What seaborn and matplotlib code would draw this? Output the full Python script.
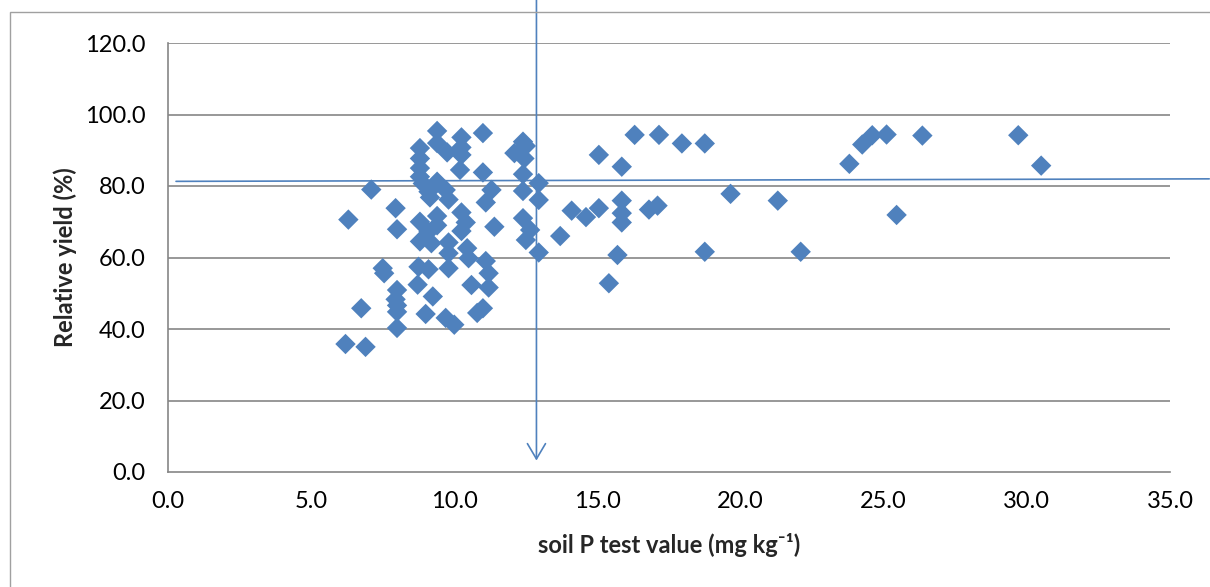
import matplotlib
matplotlib.use("Agg")
import matplotlib.pyplot as plt
import seaborn as sns
import pandas as pd
from matplotlib.patches import Rectangle
from matplotlib.lines import Line2D

# ---- data ----
soil_p = [
    6.2, 6.9, 6.75, 6.3, 7.1, 7.5, 7.55, 7.95, 8.0, 8.0, 7.95, 8.0, 8.0, 8.0,
    8.8, 8.8, 8.8, 8.8, 8.9, 8.8, 8.8, 8.75, 8.72,
    9.4, 9.4, 9.4, 9.1, 9.15, 9.4, 9.4, 9.1, 9.2, 9.1, 9.25, 9.0,
    9.75, 9.7, 9.8, 9.8, 9.8, 9.8, 9.7, 10.0,
    10.25, 10.25, 10.25, 10.2, 10.25, 10.4, 10.25, 10.45, 10.5, 10.6,
    11.0, 11.0, 11.3, 11.1, 11.4, 11.1, 11.2, 11.2, 11.0, 10.8,
    12.4, 12.5, 12.1, 12.45, 12.4, 12.95, 12.4, 12.95, 12.4, 12.65, 12.5, 12.95,
    13.7, 14.1, 14.6, 15.05, 15.05, 15.4, 15.7, 15.85, 15.85, 15.85, 15.85,
    16.3, 16.8, 17.1, 17.15, 17.95, 18.75, 18.75, 19.65, 21.3, 22.1,
    23.8, 24.25, 24.6, 25.1, 25.45, 26.35, 29.7, 30.5,
]
relative_yield = [
    35.8, 35.0, 45.8, 70.6, 79.0, 57.0, 55.6, 73.8, 67.9, 50.9, 48.3, 46.6, 44.8, 40.3,
    90.6, 87.7, 85.0, 82.6, 80.7, 70.0, 64.5, 57.4, 52.4,
    95.4, 92.0, 81.2, 78.4, 76.8, 71.6, 69.0, 67.2, 64.0, 56.7, 49.1, 44.2,
    89.4, 78.9, 76.2, 64.2, 61.2, 57.0, 43.1, 41.2,
    93.6, 90.8, 88.7, 84.5, 72.6, 69.8, 67.4, 62.6, 59.8, 52.3,
    94.8, 83.8, 78.9, 75.4, 68.6, 59.0, 55.6, 51.6, 45.8, 44.5,
    92.4, 91.2, 89.2, 87.7, 83.3, 80.8, 78.6, 76.1, 71.0, 67.7, 64.9, 61.4,
    66.0, 73.1, 71.3, 88.7, 73.8, 52.8, 60.7, 85.4, 75.9, 72.4, 69.8,
    94.3, 73.4, 74.5, 94.3, 91.9, 91.9, 61.6, 77.8, 75.9, 61.6,
    86.2, 91.6, 94.2, 94.4, 71.9, 94.1, 94.2, 85.7,
]

x_ticks = [0, 5, 10, 15, 20, 25, 30, 35]
y_ticks = [0, 20, 40, 60, 80, 100, 120]

# critical value lines (drawn annotations in the original)
h_line_x = [0.28, 36.37]
h_line_y = [81.3, 82.0]
v_line_x = 12.87
v_line_y = [132.0, 3.2]

x_label = "soil P test value (mg kg⁻¹)"
y_label = "Relative yield (%)"

# ---- style ----
sns.set_style("white")
plt.rcParams["font.family"] = ["Lato", "DejaVu Sans"]

blue = "#4F81BD"
grid_gray = "#868686"

df = pd.DataFrame({"soil_p": soil_p, "rel_yield": relative_yield})

W, H = 1210, 587
fig = plt.figure(figsize=(W / 100, H / 100), dpi=100)
ax = fig.add_axes([168 / W, 1 - 472 / H, (1170 - 168) / W, (472 - 43) / H])

ax.set_xlim(0, 35)
ax.set_ylim(0, 120)

# gridlines
for yv in y_ticks[1:]:
    ax.axhline(yv, color=grid_gray, lw=1.2, zorder=1)

sns.scatterplot(data=df, x="soil_p", y="rel_yield", marker="D", s=108,
                color=blue, edgecolor="none", linewidth=0, ax=ax, zorder=3)

ax.set_xticks(x_ticks)
ax.set_xticklabels([f"{v:.1f}" for v in x_ticks])
ax.set_yticks(y_ticks)
ax.set_yticklabels([f"{v:.1f}" for v in y_ticks])

for side in ["top", "right"]:
    ax.spines[side].set_visible(False)
for side in ["left", "bottom"]:
    ax.spines[side].set_color(grid_gray)
    ax.spines[side].set_linewidth(1.2)

ax.tick_params(axis="both", which="both", direction="out", length=5, width=1.2,
               color=grid_gray, labelsize=17, labelcolor="black")
ax.tick_params(axis="x", pad=9)
ax.tick_params(axis="y", pad=11)

ax.set_xlabel(x_label, fontsize=17, fontweight="bold", labelpad=15)
ax.set_ylabel(y_label, fontsize=17, fontweight="bold", labelpad=6)

# horizontal critical line (extends beyond the plot area)
ax.add_line(Line2D(h_line_x, h_line_y, color=blue, lw=1.2, clip_on=False, zorder=4))

# vertical arrow
ax.annotate("", xy=(v_line_x, v_line_y[1]), xytext=(v_line_x, v_line_y[0]),
            xycoords="data", textcoords="data", annotation_clip=False,
            arrowprops=dict(arrowstyle="->,head_length=1.1,head_width=0.65",
                            color=blue, lw=1.2, shrinkA=0, shrinkB=0),
            zorder=4)

# chart-area border
fig.patches.append(Rectangle((10 / W, -0.1), 1.2, 1 - 12 / H + 0.1,
                             transform=fig.transFigure, fill=False,
                             edgecolor="#A0A0A0", lw=1.0))

fig.savefig("out.png", dpi=100)
